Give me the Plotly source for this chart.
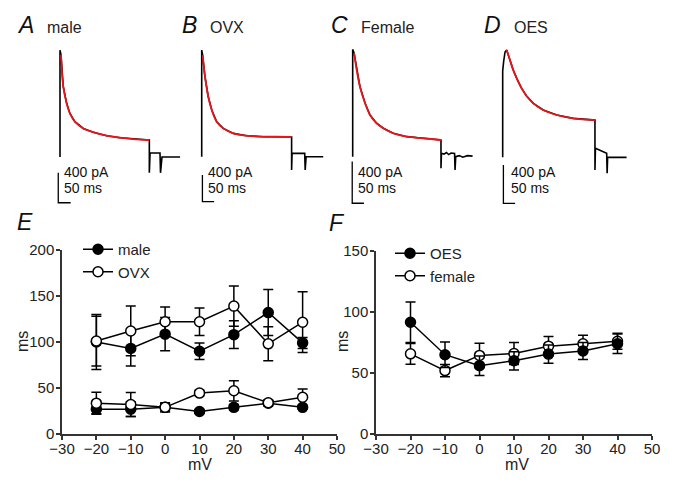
import plotly.graph_objects as go

# ---------------- data ----------------
volt = [-20, -10, 0, 10, 20, 30, 40]

male_slow = [100, 93, 108.5, 90, 108, 132, 99]
male_slow_err = [30, 19, 18, 9, 15, 25, 6]
ovx_slow = [101, 112, 122, 122, 139, 98, 121.5]
ovx_slow_err = [27, 27, 16, 15, 22, 18.5, 33]
male_fast = [27, 27, 29, 24.5, 29, 33.5, 29]
male_fast_err = [5, 8, 4, 2, 3, 3, 2]
ovx_fast = [33.5, 32, 29, 44.5, 47, 34, 40]
ovx_fast_err = [12, 13, 5, 3, 11, 3, 9]

oes_tau = [91.6, 65, 56, 60, 65.5, 68, 74]
oes_err = [16.5, 10.5, 8, 7.5, 7.5, 7, 8]
female_tau = [65.7, 52, 64.4, 66, 72, 74, 76]
female_err = [8.5, 5, 10, 9, 8, 7, 6.5]

# current traces (time in ms, current in pA)
A_t = [0, 0, 4, 13, 27, 40, 60, 94, 134, 188, 242, 295, 360, 360, 363, 403, 405, 411, 484]
A_i = [0, 1420, 1360, 940, 710, 580, 470, 380, 330, 283, 257, 239, 226, -210, 53, 53, -210, 0, 0]
B_t = [0, 0, 4, 14, 28, 43, 64, 92, 135, 192, 263, 320, 384, 384, 386, 440, 442, 446, 519]
B_i = [0, 1600, 1525, 1200, 900, 700, 525, 425, 350, 315, 300, 300, 295, -200, 50, 50, -200, 0, 0]
C_t = [0, 0, 6, 17, 31, 53, 74, 102, 131, 173, 231, 301, 377, 377, 379, 390, 400, 410, 420, 435, 437, 440, 455, 470, 490, 512]
C_i = [0, 1030, 993, 832, 672, 513, 400, 321, 273, 225, 192, 177, 160, -111, 33, 25, 40, 20, 35, 30, -128, 0, 10, -5, 10, 5]
D_t = [0, 0, 4, 10, 17, 31, 45, 60, 81, 102, 131, 173, 231, 301, 394, 394, 396, 444, 446, 448, 529]
D_i = [0, 900, 1000, 1100, 1120, 1016, 911, 825, 720, 640, 564, 494, 442, 407, 389, -133, 94, 42, -167, 0, 0]
# exponential fits (red) follow the decay phase
fit_slices = {"A": (2, 13), "B": (2, 13), "C": (2, 13), "D": (4, 15)}

panel_letters = ["A", "B", "C", "D"]
panel_names = ["male", "OVX", "Female", "OES"]
scale_pA = 400
scale_ms = 50
# scale bar corners (ms, pA) in each panel
scale_corner_t = [-7, 3, -2, 3]
scale_corner_i = [-608, -675, -447, -480]

xticks = [-30, -20, -10, 0, 10, 20, 30, 40, 50]

# ---------------- figure ----------------
# page body has an 8px default margin; the figure is sized to fit the 677x482 window
OFF = 8
W, H = 677 - 2 * OFF, 482 - 2 * OFF
fig = go.Figure()

FONT = "Liberation Sans, Arial, sans-serif"
AX = "#333333"

def px_x(p):
    return (p - OFF) / W

def px_y(p):
    return 1 - (p - OFF) / H

def add_series(x, y, err, filled, xa, ya, name, show, group, legend):
    fig.add_trace(go.Scatter(
        x=x, y=y, mode="lines+markers", xaxis=xa, yaxis=ya,
        name=name, showlegend=show, legendgroup=group, legend=legend,
        line=dict(color="black", width=1.5),
        marker=dict(symbol="circle", size=10,
                    color="black" if filled else "white",
                    line=dict(color="black", width=1.5)),
        error_y=dict(type="data", array=err, visible=True,
                     color="black", thickness=1.5, width=5),
        cliponaxis=False,
    ))

# E
add_series(volt, male_slow, male_slow_err, True, "x", "y", "male", True, "male", "legend")
add_series(volt, male_fast, male_fast_err, True, "x", "y", "male", False, "male", "legend")
add_series(volt, ovx_slow, ovx_slow_err, False, "x", "y", "OVX", True, "ovx", "legend")
add_series(volt, ovx_fast, ovx_fast_err, False, "x", "y", "OVX", False, "ovx", "legend")
# F
add_series(volt, female_tau, female_err, False, "x2", "y2", "female", False, "female", "legend2")
add_series(volt, oes_tau, oes_err, True, "x2", "y2", "OES", True, "oes", "legend2")
fig.add_trace(go.Scatter(x=[None], y=[None], mode="lines+markers", xaxis="x2", yaxis="y2",
                         name="female", legend="legend2", legendgroup="female",
                         line=dict(color="black", width=1.5),
                         marker=dict(size=10, color="white", line=dict(color="black", width=1.5))))

# Traces A-D
traces = [(A_t, A_i), (B_t, B_i), (C_t, C_i), (D_t, D_i)]
for k, (t, i) in enumerate(traces):
    xa, ya = f"x{k+3}", f"y{k+3}"
    fig.add_trace(go.Scatter(x=t, y=i, mode="lines", xaxis=xa, yaxis=ya, showlegend=False,
                             line=dict(color="black", width=1.6)))
    s0, s1 = fit_slices[panel_letters[k]]
    fig.add_trace(go.Scatter(x=t[s0:s1], y=i[s0:s1], mode="lines", xaxis=xa, yaxis=ya,
                             showlegend=False, line=dict(color="#e8161b", width=1.8, shape="spline")))
    ct, ci = scale_corner_t[k], scale_corner_i[k]
    fig.add_trace(go.Scatter(x=[ct, ct, ct + scale_ms], y=[ci + scale_pA, ci, ci], mode="lines",
                             xaxis=xa, yaxis=ya, showlegend=False,
                             line=dict(color="black", width=1.3)))

axis_common = dict(showline=True, linecolor=AX, linewidth=1.5, ticks="outside",
                   tickcolor=AX, tickwidth=1.5, ticklen=4, showgrid=False, zeroline=False,
                   automargin=False,
                   tickfont=dict(family=FONT, size=15, color="#222"))

layout = dict(
    width=W, height=H, margin=dict(l=0, r=0, t=0, b=0, pad=0, autoexpand=False),
    paper_bgcolor="white", plot_bgcolor="white",
    font=dict(family=FONT, color="#222"),
    xaxis=dict(domain=[px_x(62), px_x(337)], range=[-30, 50], tickvals=xticks,
               anchor="y", ticklabelstandoff=-4, **axis_common),
    yaxis=dict(domain=[px_y(434), px_y(250)], range=[0, 200], tickvals=[0, 50, 100, 150, 200],
               anchor="x", ticklabelstandoff=-1, **axis_common),
    xaxis2=dict(domain=[px_x(376), px_x(652)], range=[-30, 50], tickvals=xticks,
                anchor="y2", ticklabelstandoff=-4, **axis_common),
    yaxis2=dict(domain=[px_y(434), px_y(251)], range=[0, 150], tickvals=[0, 50, 100, 150],
                anchor="x2", ticklabelstandoff=-1, **axis_common),
    legend=dict(x=px_x(78), y=px_y(233), xanchor="left", yanchor="top",
                bgcolor="rgba(0,0,0,0)", font=dict(family=FONT, size=15, color="#222"),
                itemwidth=30, tracegroupgap=0),
    legend2=dict(x=px_x(390), y=px_y(237), xanchor="left", yanchor="top",
                 bgcolor="rgba(0,0,0,0)", font=dict(family=FONT, size=15, color="#222"),
                 itemwidth=30, tracegroupgap=0),
    showlegend=True,
)

# top panel axes (hidden)
top_dom_x = [(40, 190), (190, 330), (340, 480), (490, 640)]
top_rng_x = [(-80.6, 523.9), (-50, 548), (-54.2, 543.6), (-54.2, 586.3)]
top_rng_y = [(-771, 1556), (-875, 1751), (-560, 1120), (-602, 1225)]
for k in range(4):
    layout[f"xaxis{k+3}"] = dict(domain=[px_x(top_dom_x[k][0]), px_x(top_dom_x[k][1])],
                                 range=list(top_rng_x[k]), visible=False, anchor=f"y{k+3}",
                                 automargin=False)
    layout[f"yaxis{k+3}"] = dict(domain=[px_y(215), px_y(40)], range=list(top_rng_y[k]),
                                 visible=False, anchor=f"x{k+3}", automargin=False)
fig.update_layout(**layout)

def txt(text, x, y, size=16, italic=False, xanchor="center", angle=0, color="#222"):
    f = dict(family=FONT, size=size, color=color)
    if italic:
        f["style"] = "italic"
    return dict(text=text, x=px_x(x), y=px_y(y), xref="paper", yref="paper", showarrow=False,
                xanchor=xanchor, yanchor="middle", textangle=angle, font=f)

ann = []
letter_x = [25, 189, 339, 492]
name_x = [45, 208, 359, 512]
for k in range(4):
    ann.append(txt(panel_letters[k], letter_x[k], 25, size=23, italic=True, color="#111"))
    ann.append(txt(panel_names[k], name_x[k], 27, xanchor="left"))
text_x = [62, 206, 356, 509]
for k in range(4):
    ann.append(txt(f"{scale_pA} pA", text_x[k], 172, size=14, xanchor="left", color="#111"))
    ann.append(txt(f"{scale_ms} ms", text_x[k], 188, size=14, xanchor="left", color="#111"))
ann.append(txt("E", 25, 222, size=23, italic=True, color="#111"))
ann.append(txt("F", 337, 223, size=23, italic=True, color="#111"))
for xc, xtitle_x in [(22, 200), (342, 517)]:
    ann.append(txt("ms", xc, 342, angle=-90))
    ann.append(txt("mV", xtitle_x, 464))
fig.update_layout(annotations=ann)

fig.write_html("out.html")
